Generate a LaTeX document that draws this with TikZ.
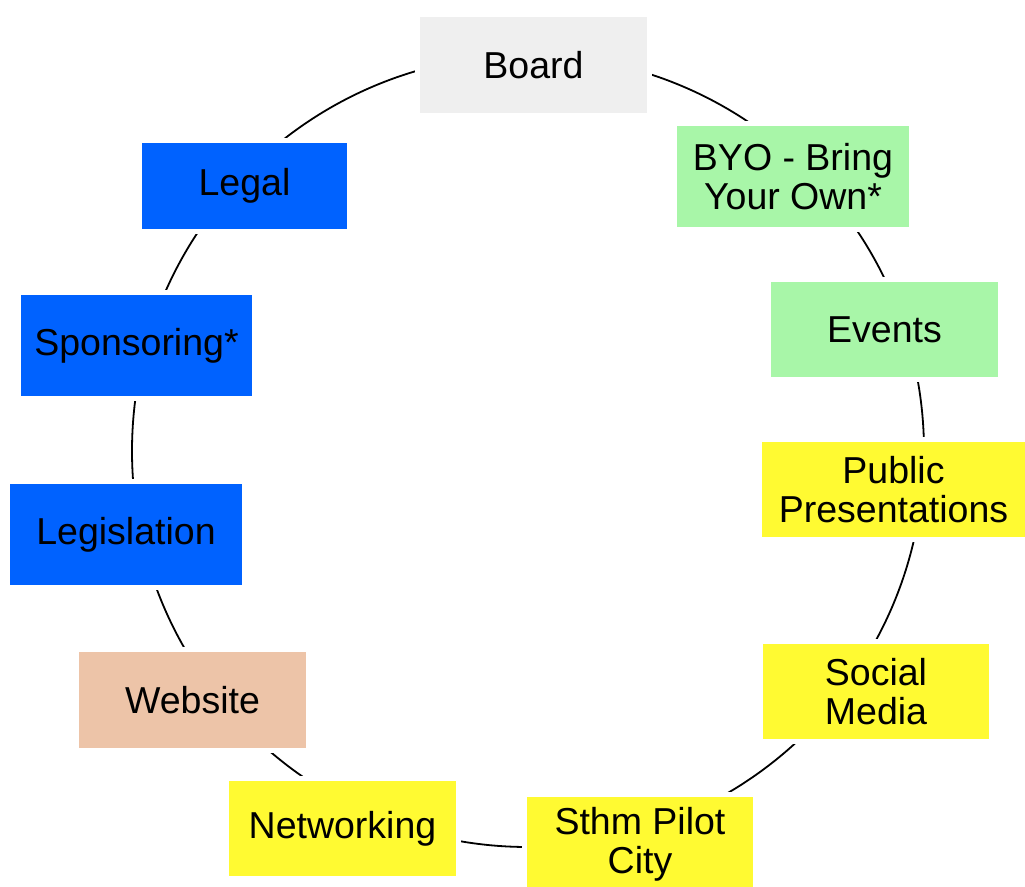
\documentclass[tikz,border=0pt]{standalone}
\usepackage{fontspec}
\setmainfont{Liberation Sans}
\definecolor{boardgray}{RGB}{239,239,239}
\definecolor{lgreen}{RGB}{168,246,168}
\definecolor{byellow}{RGB}{255,250,50}
\definecolor{bblue}{RGB}{0,98,255}
\definecolor{peach}{RGB}{237,196,168}
\tikzset{
  box/.style={rectangle, inner sep=0pt, align=center, text=black,
    font=\fontsize{37.5}{39}\selectfont,
    preaction={draw=white, line width=10pt}},
  ring/.style={draw=black, line width=1.8pt}
}
\begin{document}
\begin{tikzpicture}[x=1pt,y=-1pt]
\useasboundingbox (0,0) rectangle (1025,886);
\fill[white] (0,0) rectangle (1025,886);
\coordinate (c) at (528,451);
\draw[ring] (c) circle (396pt);
\node[box, fill=boardgray, minimum width=227pt, minimum height=96pt] (board) at (533.5,65) {Board};
\node[box, fill=lgreen, minimum width=232pt, minimum height=101pt] (byo) at (793,176.5) {BYO - Bring\\Your Own*};
\node[box, fill=lgreen, minimum width=227pt, minimum height=95pt] (events) at (884.5,329.5) {Events};
\node[box, fill=byellow, minimum width=263pt, minimum height=95pt] (public) at (893.5,489.5) {Public\\Presentations};
\node[box, fill=byellow, minimum width=226pt, minimum height=95pt] (social) at (876,691.5) {Social\\Media};
\node[box, fill=byellow, minimum width=226pt, minimum height=95pt] (sthm) at (640,844.5) {Sthm Pilot\\City};
\node[box, fill=byellow, minimum width=227pt, minimum height=95pt] (networking) at (342.5,828.5) {Networking};
\node[box, fill=peach, minimum width=227pt, minimum height=96pt] (website) at (192.5,700) {Website};
\node[box, fill=bblue, minimum width=232pt, minimum height=101pt] (legislation) at (126,534.5) {Legislation};
\node[box, fill=bblue, minimum width=231pt, minimum height=101pt] (sponsoring) at (136.5,345.5) {Sponsoring*};
\node[box, fill=bblue, minimum width=205pt, minimum height=86pt] (legal) at (244.5,186) {Legal};
\end{tikzpicture}
\end{document}
